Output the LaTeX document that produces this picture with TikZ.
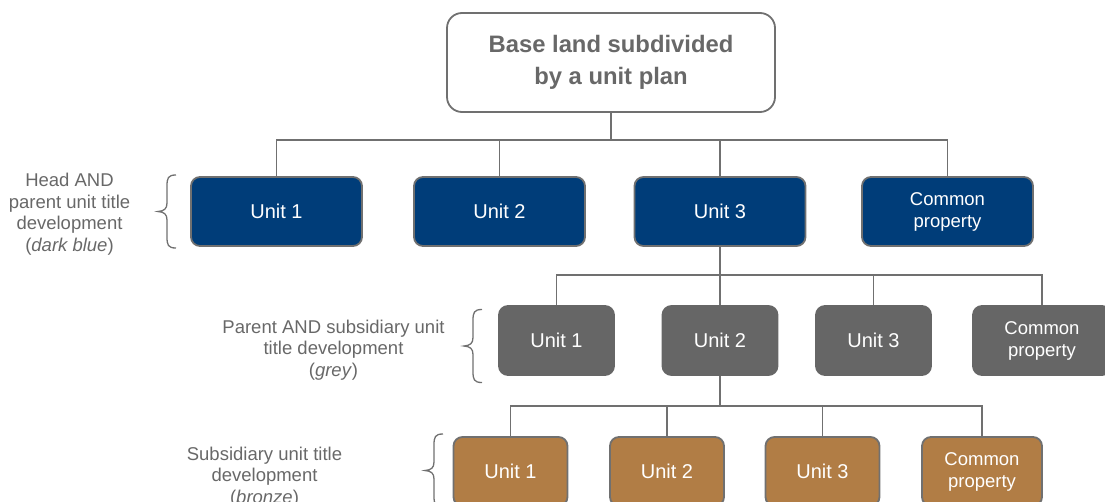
\documentclass[tikz,border=0pt]{standalone}
\usepackage{fontspec}
\setmainfont{Liberation Sans}
\definecolor{headblue}{RGB}{0,61,121}
\definecolor{parentgrey}{RGB}{102,102,102}
\definecolor{subbronze}{RGB}{177,125,69}
\definecolor{edgegrey}{RGB}{112,112,112}
\definecolor{labelgrey}{RGB}{104,104,104}
\tikzset{
  conn/.style={draw=edgegrey, line width=1.8pt},
  unitbox/.style={rounded corners=9pt, draw=edgegrey, line width=1.8pt,
    minimum height=69pt, inner sep=0pt, text=white, align=center,
    font=\fontsize{20}{22}\selectfont},
  headunit/.style={unitbox, fill=headblue, minimum width=171pt},
  parentunit/.style={unitbox, fill=parentgrey, draw=parentgrey, minimum width=115pt},
  subunit/.style={unitbox, fill=subbronze, minimum width=114pt},
  cprop/.style={font=\fontsize{18.5}{22}\selectfont},
  topbox/.style={rounded corners=15pt, draw=edgegrey, line width=1.8pt, fill=white,
    minimum width=328pt, minimum height=99pt, inner sep=0pt, align=center,
    text=labelgrey, font=\fontsize{23.8}{32}\selectfont\bfseries},
  sidelabel/.style={align=center, text=labelgrey, inner sep=0pt,
    font=\fontsize{18.5}{21.5}\selectfont},
  bracestyle/.style={draw=edgegrey, line width=1.3pt},
  sidebrace/.pic={
    \draw[bracestyle] (0,0) .. controls (-8,0) and (-9,3) .. (-9,11) -- (-9,28)
      .. controls (-9,34) and (-12,36) .. (-18,36.5)
      .. controls (-12,37) and (-9,39) .. (-9,45) -- (-9,62)
      .. controls (-9,70) and (-8,73) .. (0,73);
  }
}
\begin{document}
\begin{tikzpicture}[x=1pt, y=-1pt]
\useasboundingbox (0,0) rectangle (1105,501);
\clip (0,0) rectangle (1105,501);

% root of the tree
\node[topbox] (top) at (611,62.5) {Base land subdivided\\by a unit plan};

% head and parent development
\node[headunit] (b1) at (276.5,211.5) {Unit 1};
\node[headunit] (b2) at (499.5,211.5) {Unit 2};
\node[headunit] (b3) at (720,211.5) {Unit 3};
\node[headunit, cprop] (bc) at (947.5,211.5) {Common\\property};

% parent and subsidiary development
\node[parentunit] (g1) at (556.5,340.5) {Unit 1};
\node[parentunit] (g2) at (720,340.5) {Unit 2};
\node[parentunit] (g3) at (873.5,340.5) {Unit 3};
\node[parentunit, cprop, minimum width=138pt] (gc) at (1042,340.5) {Common\\property};

% subsidiary development
\node[subunit] (s1) at (510.5,471.5) {Unit 1};
\node[subunit] (s2) at (667,471.5) {Unit 2};
\node[subunit] (s3) at (822.5,471.5) {Unit 3};
\node[subunit, cprop, minimum width=120pt] (sc) at (982,471.5) {Common\\property};

% connectors
\path (top.south) ++(0,27) coordinate (bus1);
\draw[conn] (b1.north) |- (bus1) -| (bc.north);
\draw[conn] (top.south) -- (bus1);
\draw[conn] (b2.north) -- (b2.north |- bus1);
\draw[conn] (b3.north) -- (b3.north |- bus1);

\path (b3.south) ++(0,28) coordinate (bus2);
\draw[conn] (g1.north) |- (bus2) -| (gc.north);
\draw[conn] (b3.south) -- (g2.north);
\draw[conn] (g3.north) -- (g3.north |- bus2);

\path (g2.south) ++(0,30) coordinate (bus3);
\draw[conn] (s1.north) |- (bus3) -| (sc.north);
\draw[conn] (g2.south) -- (bus3);
\draw[conn] (s2.north) -- (s2.north |- bus3);
\draw[conn] (s3.north) -- (s3.north |- bus3);

% level labels with braces
\pic at (176,175) {sidebrace};
\pic at (482,309.5) {sidebrace};
\pic at (443,434) {sidebrace};
\node[sidelabel] (lab1) at (69.5,214) {Head AND\\parent unit title\\development\\(\textit{dark blue})};
\node[sidelabel] (lab2) at (333.5,350) {Parent AND subsidiary unit\\title development\\(\textit{grey})};
\node[sidelabel] (lab3) at (264.5,477) {Subsidiary unit title\\development\\(\textit{bronze})};
\end{tikzpicture}
\end{document}
